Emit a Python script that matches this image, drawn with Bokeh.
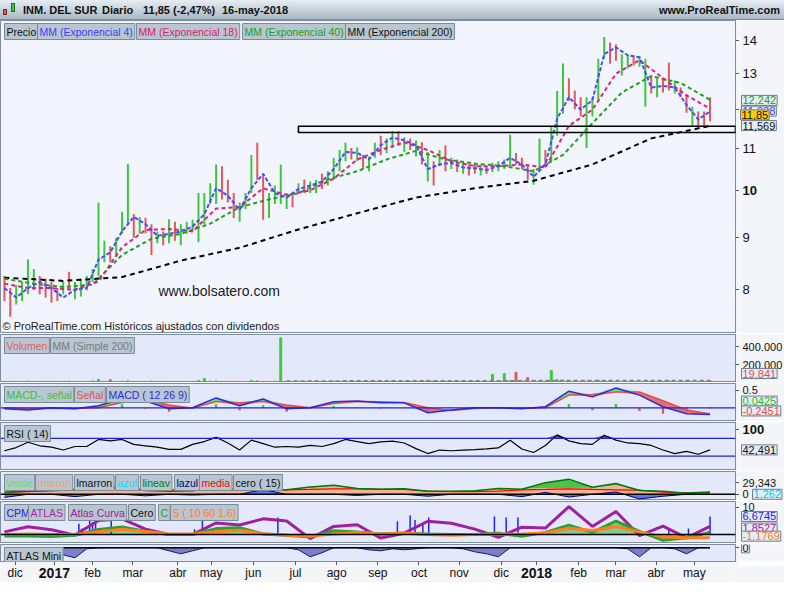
import numpy as np
from bokeh.plotting import figure
from bokeh.models import Range1d, FixedTicker, Label, BoxAnnotation, Div, Span, LogScale
from bokeh.layouts import column, row
from bokeh.embed import file_html
from bokeh.resources import INLINE

# ---------------- data ----------------
BAR_STEP = 3          # one bar shown every 3 trading days
FIRST_DAY = 2         # trading-day index of the first bar

HIGH = [8.25, 8.03, 8.08, 8.14, 8.56, 8.38, 8.25, 8.20, 8.14, 8.03,
        8.14, 8.33, 8.14, 8.20, 8.25, 8.38, 9.73, 8.93, 8.82, 8.99,
        9.53, 10.61, 9.48, 9.42, 9.40, 9.27, 9.12, 9.12, 9.37, 9.32,
        9.27, 9.32, 9.36, 9.94, 9.94, 10.16, 10.60, 10.56, 10.24, 9.94,
        9.73, 9.94, 10.83, 11.13, 10.38, 9.94, 10.11, 10.60, 9.94, 9.94,
        10.16, 10.25, 10.20, 10.24, 10.38, 10.44, 10.76, 10.95, 11.13, 11.00,
        11.02, 10.83, 10.79, 11.13, 11.31, 11.24, 11.43, 11.43, 11.26, 11.24,
        11.19, 11.14, 10.90, 10.68, 10.95, 11.07, 10.76, 10.72, 10.68, 10.60,
        10.64, 10.60, 10.56, 10.64, 10.68, 10.72, 11.33, 10.88, 10.76, 10.60,
        10.49, 11.24, 10.95, 11.56, 12.50, 13.30, 12.87, 12.52, 12.33, 12.33,
        12.33, 13.44, 14.12, 13.94, 13.88, 13.58, 13.58, 13.52, 13.52, 13.44,
        12.95, 12.87, 12.87, 13.32, 12.80, 12.60, 12.41, 12.07, 11.94, 11.94,
        12.33]
LOW = [7.80, 7.53, 7.74, 7.80, 7.92, 7.99, 7.92, 7.86, 7.77, 7.80,
       7.92, 7.99, 7.83, 7.88, 7.99, 8.14, 8.25, 8.51, 8.51, 8.61,
       9.07, 9.27, 8.99, 9.07, 9.08, 8.65, 8.88, 8.84, 8.88, 8.93,
       8.84, 9.07, 9.12, 8.90, 9.27, 9.70, 9.70, 9.80, 9.73, 9.40,
       9.32, 9.59, 9.94, 10.24, 9.36, 9.40, 9.70, 9.70, 9.59, 9.63,
       9.94, 9.94, 9.94, 9.94, 10.03, 10.11, 10.24, 10.44, 10.68, 10.72,
       10.68, 10.49, 10.44, 10.76, 10.83, 10.88, 11.00, 11.07, 10.90, 10.95,
       10.79, 10.60, 10.20, 10.11, 10.56, 10.44, 10.49, 10.42, 10.38, 10.34,
       10.38, 10.34, 10.38, 10.42, 10.44, 10.49, 10.53, 10.60, 10.49, 10.24,
       10.13, 10.44, 10.53, 10.68, 11.31, 11.88, 12.23, 12.00, 11.81, 11.00,
       11.81, 12.25, 13.44, 13.29, 13.38, 12.95, 13.15, 13.24, 13.20, 12.07,
       12.43, 12.33, 12.46, 12.52, 12.43, 12.33, 11.91, 11.56, 11.50, 11.56,
       11.68]
UP = [0, 0, 1, 1, 1, 1, 0, 0, 0, 0,
      1, 0, 1, 1, 1, 1, 1, 1, 0, 1,
      1, 1, 0, 1, 0, 0, 1, 0, 1, 0,
      1, 1, 1, 1, 1, 1, 1, 0, 0, 0,
      1, 1, 1, 0, 0, 1, 1, 1, 1, 0,
      1, 0, 1, 1, 0, 1, 1, 1, 1, 0,
      1, 0, 1, 1, 0, 1, 1, 0, 1, 0,
      1, 0, 1, 0, 1, 0, 1, 0, 1, 0,
      0, 1, 0, 1, 1, 1, 1, 0, 0, 0,
      1, 1, 0, 1, 1, 1, 0, 0, 0, 1,
      1, 1, 1, 0, 0, 1, 1, 0, 1, 1,
      0, 1, 0, 0, 1, 0, 0, 1, 0, 0,
      0]
VOLUME_K = [8, 12, 6, 10, 15, 9, 5, 7, 11, 6,
            9, 14, 6, 8, 10, 18, 35, 12, 30, 10,
            14, 20, 9, 7, 12, 16, 8, 6, 10, 9,
            7, 12, 10, 22, 45, 15, 18, 12, 8, 10,
            9, 11, 24, 18, 12, 10, 14, 500, 15, 8,
            12, 10, 9, 14, 7, 11, 16, 13, 20, 9,
            10, 8, 12, 15, 9, 11, 18, 10, 7, 12,
            14, 11, 25, 16, 9, 12, 8, 10, 7, 9,
            11, 8, 10, 90, 15, 100, 20, 115, 18, 55,
            22, 16, 14, 135, 30, 26, 14, 12, 10, 15,
            11, 25, 20, 13, 10, 12, 9, 8, 11, 14,
            10, 12, 9, 16, 8, 10, 13, 12, 9, 11,
            19.841]
VOL_SMA_K = [18, 18, 19, 19, 20, 21, 22, 22, 21, 21]      # every 8th bar from bar 48

EMA4 = [8.03, 7.86, 8.03, 8.14, 8.03, 7.86, 8.0, 8.03, 8.56, 8.7,
        9.12, 9.42, 9.27, 9.03, 9.07, 9.12, 9.22, 9.48, 10.05, 9.88,
        9.57, 10.05, 10.38, 9.94, 9.84, 10.03, 10.11, 10.2, 10.49, 10.9,
        10.88, 10.72, 11.07, 11.26, 11.19, 11.07, 10.49, 10.6, 10.64, 10.53,
        10.51, 10.47, 10.56, 10.76, 10.6, 10.31, 10.6, 11.75, 12.33, 11.99,
        12.25, 13.58, 13.79, 13.55, 13.49, 12.6, 12.65, 12.6, 12.12, 11.73,
        11.94]                                               # every 2nd bar
EMA18 = [8.11, 8.03, 8.03, 8.0, 8.15, 8.8, 9.15, 9.17, 9.12, 9.6,
         9.63, 10.05, 9.9, 10.0, 10.27, 10.72, 10.95, 11.14, 10.95, 10.68,
         10.56, 10.56, 10.6, 10.53, 11.56, 11.99, 13.0, 13.4, 12.87, 12.38,
         12.02]                                              # every 4th bar
EMA40 = [8.2, 8.11, 8.05, 8.09, 8.65, 8.97, 9.07, 9.28, 9.63, 9.8,
         9.94, 10.25, 10.44, 10.72, 10.93, 10.72, 10.62, 10.56, 10.44, 10.83,
         11.63, 12.46, 12.93, 12.73, 12.26]                  # every 5th bar
EMA200 = [8.22, 8.16, 8.23, 8.54, 8.79, 9.16, 9.5, 9.84, 10.05, 10.22,
          10.6, 11.24, 11.56]                                # every 10th bar

ZONE_DAY, ZONE_LOW, ZONE_HIGH = 152, 11.39, 11.55

MACD = [-0.03, -0.06, 0.0, -0.03, 0.06, 0.25, 0.19, -0.03, 0.0, 0.28,
        0.06, 0.25, -0.03, 0.0, 0.17, 0.19, 0.14, 0.14, -0.14, -0.06,
        0.0, 0.0, -0.03, 0.03, 0.47, 0.31, 0.56, 0.36, 0.03, -0.17,
        -0.19]                                               # every 4th bar
SIGNAL = [0.0, -0.03, -0.02, -0.02, 0.0, 0.15, 0.22, 0.08, -0.01, 0.18,
          0.14, 0.18, 0.08, 0.0, 0.12, 0.18, 0.17, 0.15, 0.0, -0.08,
          -0.02, 0.0, -0.01, 0.0, 0.36, 0.38, 0.45, 0.45, 0.2, -0.06,
          -0.17]

RSI = [40, 49, 64, 54, 50, 42, 52, 52, 72, 68,
       72, 58, 54, 50, 44, 44, 58, 66, 78, 62,
       42, 70, 60, 50, 52, 50, 55, 52, 60, 72,
       66, 60, 65, 67, 62, 46, 32, 42, 40, 42,
       43, 45, 48, 70, 45, 35, 55, 85, 68, 60,
       58, 84, 70, 62, 60, 55, 42, 32, 38, 30,
       42.5]                                                 # every 2nd bar
RSI_LEVELS = [75, 25]

MARRON = [5, 7, 10, 12.5, 16, 16.9, 10.7, 9.8, 8.9, 14.2,
          12.5, 10.7, 12.5, 16.9, 21, 16, 14, 15, 8, 8.9,
          9.8, 12.5, 14, 16, 16, 17, 23, 12.5, 8, 5.3,
          3.6]                                               # every 4th bar
LINEAV = [5, 8, 9, 12, 18, 19, 10, 8, 9, 16,
          11, 10, 12, 18.7, 23, 15, 13, 14, 8, 8,
          9, 15, 13, 30, 39, 18, 28, 10, 8, 3,
          6]
MEDIA = [5, 7, 10, 12.5, 15, 13, 12.5, 11.6, 10.7, 12.5,
         12.5, 12.5, 11.6, 12.5, 14, 14, 12.5, 12.5, 8, 7,
         7, 8, 11.6, 12.5, 14, 12.5, 11.6, 10.7, 5.3, 3.6,
         3.6]
AZUL = [-8, 0, 0, -6, 0, 0, -4, 0, -2, 0,
        0, 12, 0, 0, 0, -3, 0, 0, -5, 0,
        0, 0, -6, 5, -7, 0, 6, -12, -5, 0,
        0]

ATLAS_CURVE = [1.0, 2.9, 1.8, -0.2, 5.2, 5.8, 2.0, 0.0, 0.0, 4.3,
               3.5, 5.8, 5.0, -1.5, 3.0, 3.6, -1.3, 0.5, 4.9, 4.2,
               2.0, -1.0, 2.7, 2.4, 10.3, 3.0, 8.5, -0.4, 3.1, -1.2,
               3.0]                                          # every 4th bar
C_LINE = [-0.5, -0.5, -0.7, -0.3, 1.9, 2.8, 1.2, 0.0, 0.0, 2.2,
          2.5, 0.2, -0.3, -0.9, 1.4, 0.9, 0.2, 0.6, 0.2, 0.0,
          0.0, 0.5, -0.6, 0.8, 3.5, 0.8, 5.0, 1.2, -2.1, -1.2,
          0.8]
S_LINE = [0, 0.2, 0, 0, 1.0, 2.0, 1.1, 0.2, 0.2, 1.0,
          1.6, 0.3, -0.3, -0.5, 0.2, 0.8, 0.2, 0.5, 0, -0.3,
          0, 0.1, 0.2, 0.6, 2.3, 1.5, 3.0, 1.0, -0.9, -1.2,
          -1.2]
CPM_DAY = [40, 41.5, 45.5, 47, 48.5, 56.5, 99, 103, 141.5, 202.5,
           209, 211.5, 215.5, 218.5, 252, 258, 264, 341, 351, 361, 362]
CPM_VAL = [4.0, 2.2, 6.3, 4.6, 5.8, 5.8, 2.0, 6.3, 6.3, 4.9,
           7.0, 5.4, 4.2, 6.3, 6.7, 6.3, 6.3, 2.2, 2.2, 1.2, 6.67]

ATLAS_MINI = [0, 0, 0, 0, 0, -7, -10, -1, 0, 0,
              0, 0, 0, 0, -3, -6, -3, 0, 0, 0,
              0, 0, 0, 0, 0, -2, -9, -5, 0, 0,
              0, -2, -3, -1, -2, -1, 0, 0, 0, -1,
              -4, -6, -9, 0, 0, 0, 0, 0, 0, 0,
              0, 0, 0, -1, -9, 0, 0, -1, -6, 0,
              0]                                             # every 2nd bar

MONTH_DAYS = [7.5, 27.5, 47, 67.5, 90.5, 107.5, 129, 150.5, 171.5, 192.5,
              213.5, 234, 255.5, 273.5, 295, 314, 334.5, 354]
MONTH_LABELS = ["dic", "2017", "feb", "mar", "abr", "may", "jun", "jul", "ago", "sep",
                "oct", "nov", "dic", "2018", "feb", "mar", "abr", "may"]
YEARS = ["2017", "2018"]

# ---------------- drawing ----------------
FONT = "Liberation Sans"
FW = 735          # frame width of the chart panels
SW = 45           # width of the value column on the right
GREEN = "#3CC83C"
RED = "#E05A5A"
SIDE_BG = "#F3F5F8"
xr = Range1d(0, 375)

bar_day = FIRST_DAY + BAR_STEP * np.arange(len(HIGH))
bar_col = [GREEN if u else RED for u in UP]


def panel(h, y0, y1, bg, tick_vals, y_type="linear", top=1, axis_below=False):
    p = figure(frame_width=FW, frame_height=h, x_range=xr, y_range=Range1d(y0, y1),
               y_axis_type=y_type, y_axis_location="right",
               x_axis_location=("below" if axis_below else None),
               output_backend="svg", toolbar_location=None,
               min_border_left=0, min_border_right=0, min_border_top=top, min_border_bottom=0)
    p.background_fill_color = bg
    p.border_fill_color = SIDE_BG
    p.outline_line_color = "#7D8D9C"
    p.grid.visible = False
    ax = p.yaxis[0]
    ax.ticker = FixedTicker(ticks=tick_vals)
    ax.major_label_overrides = {v: "" for v in tick_vals}
    ax.axis_line_color = "#7D8D9C"
    ax.major_tick_line_color = "#505A64"
    ax.major_tick_out = 4
    ax.major_tick_in = 0
    ax.minor_tick_line_color = None
    ax.major_label_standoff = 0
    return p


def side(main, h, top=1, log=False):
    s = figure(frame_width=SW, frame_height=h, x_range=Range1d(0, SW), y_range=main.y_range,
               x_axis_location=None, y_axis_location=None, output_backend="svg",
               toolbar_location=None, min_border_left=0, min_border_right=0,
               min_border_top=top, min_border_bottom=0)
    if log:
        s.y_scale = LogScale()
    s.background_fill_color = SIDE_BG
    s.border_fill_color = SIDE_BG
    s.outline_line_color = None
    s.grid.visible = False
    return s


def tick_text(s, vals, labels, size="12px", bold=False):
    for v, t in zip(vals, labels):
        s.add_layout(Label(x=3, y=v, text=t, text_font=FONT, text_font_size=size,
                           text_font_style=("bold" if bold else "normal"),
                           text_color="#111111", text_baseline="middle"))


def vbox(s, y, txt, col, bg="#E6ECF3", x=2):
    s.add_layout(Label(x=x, y=y, text=txt, text_color=col, text_font=FONT,
                       text_font_size="11px", text_baseline="middle",
                       background_fill_color=bg, border_line_color="#6E7E8E", padding=1))


def legend(p, h, items):
    for x, txt, col in items:
        p.add_layout(Label(x=x + 2, y=h - 3, x_units="screen", y_units="screen", text=txt,
                           text_color=col, text_font=FONT, text_font_size="10.5px",
                           text_baseline="top", background_fill_color="#B7C6D0",
                           border_line_color="#7A8A96", padding=2))


# --- title bar ---
title_html = """<div style="position:relative;width:784px;height:20px;overflow:hidden;
background:linear-gradient(#e6edf3,#aab9c6);font-family:'Liberation Sans',Arial,sans-serif;
font-size:11px;font-weight:bold;color:#111;box-sizing:border-box;border-bottom:1px solid #7d8d9c;">
<span style="position:absolute;left:3px;top:9px;width:4px;height:6px;background:#e05a5a;border:1px solid #7a2a2a;"></span>
<span style="position:absolute;left:11px;top:3px;width:4px;height:9px;background:#3cc83c;border:1px solid #1f6a1f;"></span>
<span style="position:absolute;left:23px;top:3px;">INM. DEL SUR</span>
<span style="position:absolute;left:102px;top:3px;">Diario</span>
<span style="position:absolute;left:143px;top:3px;">11,85 (-2,47%)</span>
<span style="position:absolute;left:222px;top:3px;">16-may-2018</span>
<span style="position:absolute;right:4px;top:3px;">www.ProRealTime.com</span>
</div>"""
title = Div(text=title_html, width=784, height=20, margin=(0, 0, 0, 0))

# --- price ---
PH = 313
pp = panel(PH, 7.25, 14.65, "#F2F5FD", [8, 9, 10, 11, 12, 13, 14], y_type="log", top=0)
pp.segment(x0=bar_day, y0=LOW, x1=bar_day, y1=HIGH, line_color=bar_col, line_width=2)
pp.line(bar_day[::10], EMA200, line_color="black", line_width=2, line_dash="5 4")
pp.line(bar_day[::5], EMA40, line_color="#1FA01F", line_width=2, line_dash="4 3")
pp.line(bar_day[::4], EMA18, line_color="#E0207A", line_width=2, line_dash="4 3")
pp.line(bar_day[::2], EMA4, line_color="#4B4BFF", line_width=2, line_dash="4 2")
pp.add_layout(BoxAnnotation(left=ZONE_DAY, bottom=ZONE_LOW, top=ZONE_HIGH, fill_alpha=0.0,
                            line_color="black", line_alpha=1.0, line_width=1.6))
legend(pp, PH, [(2, "Precio", "#111111"), (35, "MM (Exponencial 4)", "#3D3DFF"),
                (134, "MM (Exponencial 18)", "#D81E68"), (240, "MM (Exponencial 40)", "#1E9E1E"),
                (343, "MM (Exponencial 200)", "#111111")])
pp.add_layout(Label(x=158, y=7.98, x_units="screen", text="www.bolsatero.com", text_font=FONT,
                    text_font_size="14px", text_color="#1A1A1A", text_baseline="middle"))
pp.add_layout(Label(x=2, y=2, x_units="screen", y_units="screen",
                    text="© ProRealTime.com  Históricos ajustados con dividendos", text_font=FONT,
                    text_font_size="11px", text_color="#1A1A1A", text_baseline="bottom"))
sp = side(pp, PH, top=0, log=True)
tick_text(sp, [14, 13, 11, 9, 8], ["14", "13", "11", "9", "8"], size="13px")
tick_text(sp, [10], ["10"], size="13px", bold=True)
vbox(sp, 12.242, "12,242", "#1E9E1E")
vbox(sp, 11.95, "11,938", "#3D3DFF")
vbox(sp, 11.85, "11,85", "#111111", bg="#FFCC00", x=1)
vbox(sp, 11.569, "11,569", "#111111")

# --- volume ---
pv = panel(48, 0, 537000, "#E3E9FA", [200000, 400000])
vol = np.array(VOLUME_K) * 1000
pv.vbar(x=bar_day, top=vol, width=1.0, fill_color=bar_col, line_color=bar_col)
pv.line(bar_day[48::8], np.array(VOL_SMA_K) * 1000, line_color="#808080", line_width=1.5,
        line_dash="4 3")
legend(pv, 48, [(2, "Volumen", "#E06060"), (48, "MM (Simple 200)", "#7A7A7A")])
sv = side(pv, 48)
tick_text(sv, [400000, 200000], ["400.000", "200.000"], size="11px")
vbox(sv, 100000, "19.841", "#E05050")

# --- MACD ---
pm = panel(38, -0.39, 0.69, "#E3E9FA", [0.5])
md = bar_day[::4]
macd = np.array(MACD)
sig = np.array(SIGNAL)
pm.add_layout(Span(location=0, dimension="width", line_color="#2020E0", line_width=1.2))
pm.varea(x=md, y1=sig, y2=np.maximum(macd, sig), fill_color="#60DD60", fill_alpha=0.9)
pm.varea(x=md, y1=np.minimum(macd, sig), y2=sig, fill_color="#E86060", fill_alpha=0.9)
hist = macd - sig
pm.vbar(x=md, top=hist, bottom=0, width=1.2,
        fill_color=[GREEN if h >= 0 else RED for h in hist], line_color=None)
pm.line(md, sig, line_color="#E05050", line_width=1.5)
pm.line(md, macd, line_color="#2B2BE6", line_width=1.5)
legend(pm, 38, [(2, "MACD-, señal", "#3CC03C"), (72, "Señal", "#E05050"),
                (104, "MACD ( 12 26 9)", "#2B2BE6")])
sm = side(pm, 38)
tick_text(sm, [0.5], ["0.5"], size="11px")
vbox(sm, 0.19, "0.0425", "#2EB82E")
vbox(sm, -0.09, "-0,2451", "#E05050")

# --- RSI ---
pr = panel(48, -16, 120, "#E3E9FA", [100])
rd = bar_day[::2]
rsi = np.array(RSI, dtype=float)
for lv in RSI_LEVELS:
    pr.add_layout(Span(location=lv, dimension="width", line_color="#2020E0", line_width=1.2))
pr.varea(x=rd, y1=RSI_LEVELS[0], y2=np.maximum(rsi, RSI_LEVELS[0]), fill_color="#7A4A4A")
pr.line(rd, rsi, line_color="black", line_width=1.2)
legend(pr, 48, [(2, "RSI ( 14)", "#111111")])
sr = side(pr, 48)
tick_text(sr, [100], ["100"], size="13px", bold=True)
vbox(sr, 42.491, "42,491", "#111111")

# --- verde / marron ---
pg = panel(29, -16, 58.7, "#E3E9FA", [0, 29.343])
gd = bar_day[::4]
marron = np.array(MARRON, dtype=float)
lineav = np.array(LINEAV, dtype=float)
azul = np.array(AZUL, dtype=float)
pg.varea(x=gd, y1=0, y2=marron, fill_color="#F2B394")
pg.varea(x=gd, y1=marron, y2=np.maximum(lineav, marron), fill_color="#4CC24C")
pg.varea(x=gd, y1=0, y2=azul, fill_color="#5A78E6")
pg.line(gd, azul, line_color="#000080", line_width=1)
pg.add_layout(Span(location=0, dimension="width", line_color="black", line_width=1.5))
pg.line(gd, MEDIA, line_color="#FF0000", line_width=1.2)
pg.line(gd, lineav, line_color="#007A00", line_width=1.5)
legend(pg, 29, [(2, "verde", "#5EE05E"), (33, "marron", "#F4A070"), (72, "lmarron", "#111111"),
                (113, "azul", "#00E0FF"), (138, "lineav", "#007A00"), (172, "lazul", "#000080"),
                (197, "media", "#FF0000"), (231, "cero ( 15)", "#111111")])
sg = side(pg, 29)
tick_text(sg, [29.343, 0], ["29,343", "0"], size="11px")
vbox(sg, 0, "1,262", "#00C8E8", x=13)

# --- CPM / ATLAS ---
pc = panel(42, -3.3, 12.2, "#E3E9FA", [10])
cd = bar_day[::4]
pc.varea(x=cd, y1=0, y2=C_LINE, fill_color="#5CB85C", fill_alpha=0.7)
pc.add_layout(Span(location=0, dimension="width", line_color="black", line_width=1.5))
pc.segment(x0=CPM_DAY, y0=0, x1=CPM_DAY, y1=CPM_VAL, line_color="#2020FF", line_width=1.5)
pc.line(cd, ATLAS_CURVE, line_color="#A020A0", line_width=3)
pc.line(cd, C_LINE, line_color="#2EA02E", line_width=3)
pc.line(cd, S_LINE, line_color="#FF7F20", line_width=3)
legend(pc, 42, [(2, "CPM", "#2020FF"), (26, "ATLAS", "#B020B0"), (66, "Atlas Curva", "#A020A0"),
                (126, "Cero", "#111111"), (156, "C", "#20A020"), (168, "S ( 10 60 1.6)", "#FF7F20")])
sc = side(pc, 42)
tick_text(sc, [10], ["10"], size="11px")
vbox(sc, 6.6745, "6,6745", "#2020FF")
vbox(sc, 2.4, "1,8527", "#A020A0")
vbox(sc, -0.6, "-1,1769", "#FF7F20")

# --- ATLAS Mini ---
pa = panel(17, -13.7, 3.3, "#E3E9FA", [0], axis_below=True)
ad = bar_day[::2]
mini = np.array(ATLAS_MINI, dtype=float)
pa.varea(x=ad, y1=0, y2=mini, fill_color="#7B7FCB")
pa.line(ad, mini, line_color="#1A1A60", line_width=1)
pa.line(ad[5:], np.zeros(len(ad) - 5), line_color="black", line_width=1.5)
legend(pa, 17, [(2, "ATLAS Mini", "#111111")])
xa = pa.xaxis[0]
xa.ticker = FixedTicker(ticks=MONTH_DAYS)
xa.major_label_overrides = {d: "" for d in MONTH_DAYS}
xa.axis_line_color = "#7D8D9C"
xa.major_tick_line_color = "#505A64"
xa.major_tick_out = 4
xa.major_tick_in = 0
xa.minor_tick_line_color = None
xa.major_label_standoff = 0
sa = side(pa, 17)
vbox(sa, 0, "0", "#111111")

# --- date labels strip ---
pd_ = figure(frame_width=FW, frame_height=17, x_range=xr, y_range=Range1d(0, 17),
             x_axis_location=None, y_axis_location=None, output_backend="svg",
             toolbar_location=None, min_border_left=0, min_border_right=SW + 4,
             min_border_top=0, min_border_bottom=0)
pd_.background_fill_color = SIDE_BG
pd_.border_fill_color = SIDE_BG
pd_.outline_line_color = None
pd_.grid.visible = False
for d, l in zip(MONTH_DAYS, MONTH_LABELS):
    year = l in YEARS
    pd_.add_layout(Label(x=d, y=10, text=l, text_font=FONT,
                         text_font_size=("14px" if year else "12px"),
                         text_font_style=("bold" if year else "normal"),
                         text_align="center", text_baseline="middle", text_color="#111111"))

layout = column(title, row(pp, sp), row(pv, sv), row(pm, sm), row(pr, sr), row(pg, sg),
                row(pc, sc), row(pa, sa), pd_, spacing=0)
open("out.html", "w").write(file_html(layout, INLINE))
